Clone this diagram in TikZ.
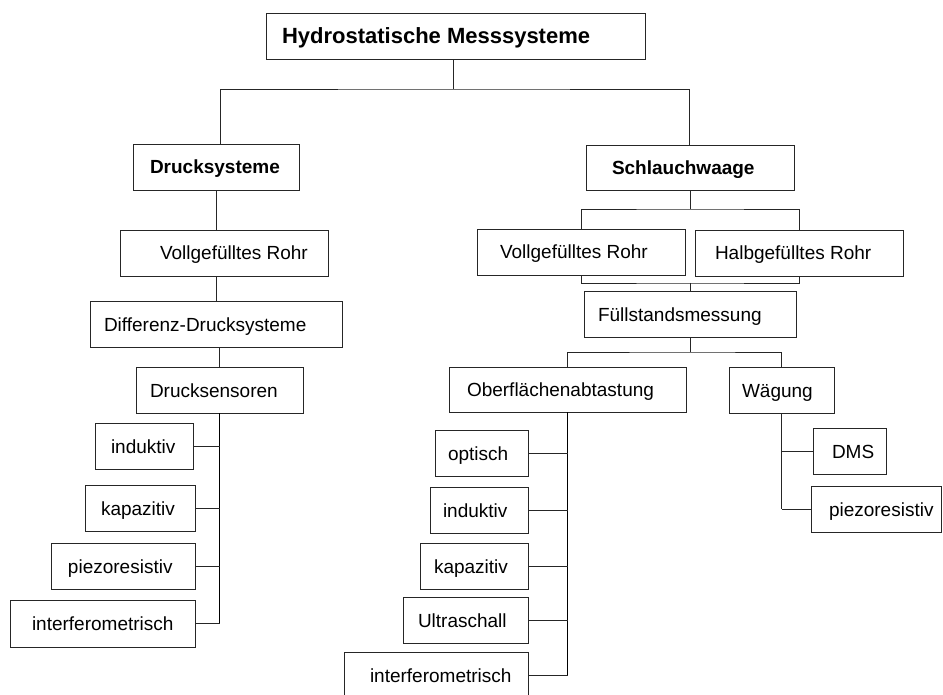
\documentclass[tikz,border=0pt]{standalone}
\usepackage{fontspec}
\setmainfont{Liberation Sans}
\tikzset{
  box/.style={draw=black!85, line width=0.9pt, inner sep=0pt, text height=14pt, text depth=0pt, font=\fontsize{19}{22}\selectfont},
  titlebox/.style={box, text height=16pt, font=\fontsize{22}{26}\selectfont\bfseries},
  subbox/.style={box, font=\fontsize{19}{22}\selectfont\bfseries},
  link/.style={draw=black!85, line width=0.9pt},
  trunk/.style={draw=black, line width=1.5pt}
}
\newcommand{\bx}[8][box]{%
  \pgfmathsetmacro{\bxw}{#5-#3}%
  \pgfmathsetmacro{\bxh}{#6-#4}%
  \node[#1, minimum width=\bxw pt, minimum height=\bxh pt] (#2) at ({(#3+#5)/2},{(#4+#6)/2})
    {\makebox[\bxw pt][l]{\hspace*{#7pt}#8}};}
\begin{document}
\begin{tikzpicture}[x=1pt,y=-1pt]
\useasboundingbox (0,0) rectangle (943,695);
% boxes
\bx[titlebox]{top}{266}{13}{645}{59}{16}{Hydrostatische Messsysteme}
\bx[subbox]{druck}{133}{144}{299}{190}{17}{Drucksysteme}
\bx[subbox]{schl}{586}{145}{794}{190}{26}{Schlauchwaage}
\bx{vollL}{120}{230}{328}{276}{40}{Vollgefülltes Rohr}
\bx{diff}{90}{301}{342}{347}{14}{Differenz-Drucksysteme}
\bx{dsens}{136}{367}{303}{413}{14}{Drucksensoren}
\bx{indL}{95}{423}{193}{469}{16}{induktiv}
\bx{kapL}{85}{485}{195}{531}{16}{kapazitiv}
\bx{piezL}{51}{543}{195}{589}{17}{piezoresistiv}
\bx{intL}{10}{600}{195}{647}{22}{interferometrisch}
\bx{vollR}{477}{229}{685}{275}{23}{Vollgefülltes Rohr}
\bx{halb}{695}{230}{903}{276}{20}{Halbgefülltes Rohr}
\bx{fuell}{584}{291}{796}{337}{14}{Füllstandsmessung}
\bx{ober}{449}{367}{686}{412}{18}{Oberflächenabtastung}
\bx{waeg}{729}{367}{834}{413}{13}{Wägung}
\bx{opt}{435}{430}{528}{476}{13}{optisch}
\bx{indR}{430}{487}{528}{533}{13}{induktiv}
\bx{kapR}{420}{543}{528}{589}{14}{kapazitiv}
\bx{ultra}{403}{597}{528}{643}{15}{Ultraschall}
\bx{intR}{344}{652}{528}{698}{26}{interferometrisch}
\bx{dms}{813}{428}{886}{474}{19}{DMS}
\bx{piezR}{811}{486}{941}{532}{18}{piezoresistiv}
% junctions
\coordinate (j1) at (453,89);
\coordinate (j2) at (690,209);
\coordinate (j3) at (690,283);
\coordinate (j4) at (690,352);
% connectors
\draw[link] (top.south -| j1) -- (j1);
\draw[link] ([xshift=4pt]druck.north) |- (j1) -| ([xshift=-1pt]schl.north);
\draw[link] (druck.south) -- (druck.south |- vollL.north);
\draw[link] (druck.south |- vollL.south) -- (druck.south |- diff.north);
\draw[link] (dsens.north |- diff.south) -- (dsens.north);
\draw[trunk] (dsens.south) -- (dsens.south |- intL.east);
\foreach \c in {indL,kapL,piezL,intL}
  \draw[link] (\c.east) -- (\c.east -| dsens.south);
\draw[link] (schl.south) -- (j2);
\draw[link] (vollR.north) |- (j2) -| (halb.north);
\draw[link] (vollR.south) |- (j3) -| (halb.south);
\draw[link] (j3) -- (fuell.north);
\draw[link] (fuell.south) -- (j4);
\draw[link] (ober.north) |- (j4) -| (waeg.north);
\draw[trunk] (ober.south) -- (ober.south |- intR.east);
\foreach \c in {opt,indR,kapR,ultra,intR}
  \draw[link] (\c.east) -- (\c.east -| ober.south);
\draw[link] (waeg.south) -- (waeg.south |- piezR.west);
\foreach \c in {dms,piezR}
  \draw[link] (\c.west) -- (\c.west -| waeg.south);
\end{tikzpicture}
\end{document}
